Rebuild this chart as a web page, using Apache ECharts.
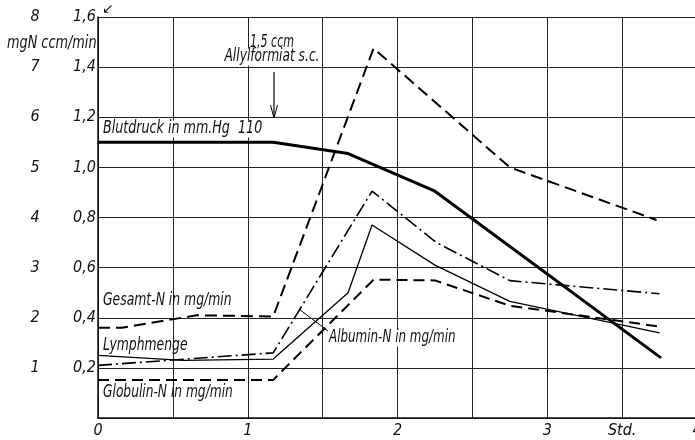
<!DOCTYPE html>
<html>
<head>
<meta charset="utf-8">
<script src="https://cdn.jsdelivr.net/npm/echarts@6/dist/echarts.min.js"></script>
<style>
html,body{margin:0;padding:0;background:#fff;}
#chart{width:695px;height:440px;}
</style>
</head>
<body>
<div id="chart"></div>
<script>
// ---- data (hours, value on the 0..1.6 scale) ----
const blutdruckX = [0, 1.17, 1.67, 2.25, 3.76];
const blutdruckY = [1.10, 1.10, 1.055, 0.905, 0.24];

const gesamtX = [0, 0.16, 0.66, 1.17, 1.84, 2.75, 3.73];
const gesamtY = [0.36, 0.36, 0.41, 0.405, 1.475, 1.0, 0.79];

const lymphX = [0, 0.57, 1.17, 1.67, 1.83, 2.25, 2.75, 3.75];
const lymphY = [0.25, 0.23, 0.235, 0.50, 0.77, 0.61, 0.465, 0.34];

const albuminX = [0, 1.17, 1.83, 2.26, 2.75, 3.75];
const albuminY = [0.21, 0.26, 0.905, 0.70, 0.548, 0.496];

const globulinX = [0, 1.17, 1.84, 2.25, 2.75, 3.75];
const globulinY = [0.152, 0.152, 0.552, 0.549, 0.448, 0.365];

const xTickLabels = {0: '0', 1: '1', 2: '2', 3: '3', 3.5: 'Std.', 4: '4'};
const leftTickLabels = {0.2: '1', 0.4: '2', 0.6: '3', 0.8: '4', 1.0: '5', 1.2: '6', 1.4: '7', 1.6: '8'};

function zip(xs, ys) { return xs.map((x, i) => [x, ys[i]]); }

const FONT = "'DejaVu Sans Condensed', 'Liberation Sans Narrow', 'Liberation Sans', sans-serif";
const chart = echarts.init(document.getElementById('chart'), null, {renderer: 'canvas'});

function label(text, x, y, opts) {
  const o = opts || {};
  return {
    type: 'text', x: x, y: y, scaleX: o.scaleX || 0.8, z: 100,
    style: {
      text: text, fontFamily: FONT, fontStyle: 'italic', fill: '#111',
      fontSize: o.fontSize || 17, align: o.align || 'left', verticalAlign: 'middle',
      backgroundColor: o.bg || null
    }
  };
}

chart.setOption({
  animation: false,
  backgroundColor: '#fff',
  grid: {left: 98, top: 17, right: -2, bottom: 22, containLabel: false, outerBoundsMode: 'none'},
  xAxis: {
    type: 'value', min: 0, max: 4, interval: 0.5,
    axisLine: {show: true, lineStyle: {color: '#111', width: 1.5}},
    axisTick: {show: false},
    splitLine: {show: true, lineStyle: {color: '#222', width: 1}},
    axisLabel: {
      fontFamily: FONT, fontStyle: 'italic', fontSize: 16, color: '#111', margin: 5,
      showMaxLabel: true, showMinLabel: true, hideOverlap: false,
      formatter: v => (xTickLabels[Math.round(v * 10) / 10] || '')
    }
  },
  yAxis: {
    type: 'value', min: 0, max: 1.6, interval: 0.2,
    axisLine: {show: true, lineStyle: {color: '#111', width: 1.5}},
    axisTick: {show: false},
    splitLine: {show: true, lineStyle: {color: '#222', width: 1}},
    axisLabel: {
      margin: 2,
      formatter: v => {
        const k = Math.round(v * 10) / 10;
        if (k === 0) return '';
        return '{a|' + leftTickLabels[k] + '}{b|' + k.toFixed(1).replace('.', ',') + '}';
      },
      rich: {
        a: {fontFamily: FONT, fontStyle: 'italic', fontSize: 16, color: '#111', width: 66, align: 'center'},
        b: {fontFamily: FONT, fontStyle: 'italic', fontSize: 16, color: '#111', width: 28, align: 'right'}
      }
    }
  },
  series: [
    {type: 'line', data: zip(blutdruckX, blutdruckY), symbol: 'none',
     lineStyle: {color: '#000', width: 3}},
    {type: 'line', data: zip(gesamtX, gesamtY), symbol: 'none',
     lineStyle: {color: '#000', width: 2, type: [12, 6]}},
    {type: 'line', data: zip(lymphX, lymphY), symbol: 'none',
     lineStyle: {color: '#000', width: 1.3}},
    {type: 'line', data: zip(albuminX, albuminY), symbol: 'none',
     lineStyle: {color: '#000', width: 1.6, type: [14, 4, 2, 4]}},
    {type: 'line', data: zip(globulinX, globulinY), symbol: 'none',
     lineStyle: {color: '#000', width: 2, type: [11, 6]}}
  ],
  graphic: [
    label('mgN ccm/min', 7, 44, {scaleX: 0.84}),
    {type: 'text', x: 102, y: 2, style: {text: '↙', fontSize: 14, fontFamily: 'DejaVu Sans', fill: '#111'}},
    label('1,5 ccm', 272, 43, {align: 'center', scaleX: 0.72}),
    label('Allylformiat s.c.', 272, 57, {align: 'center', scaleX: 0.8, bg: '#fff'}),
    {type: 'line', shape: {x1: 274, y1: 72, x2: 274, y2: 118}, style: {stroke: '#000', lineWidth: 1.2}},
    {type: 'polyline', shape: {points: [[270.5, 105], [274, 118], [277.5, 105]]}, style: {stroke: '#000', lineWidth: 1, fill: null}},
    label('Blutdruck in mm.Hg  110', 103, 129, {scaleX: 0.83, bg: '#fff'}),
    label('Gesamt-N in mg/min', 103, 301, {scaleX: 0.81}),
    label('Lymphmenge', 103, 346, {scaleX: 0.81}),
    label('Globulin-N in mg/min', 103, 393, {scaleX: 0.8}),
    {type: 'line', shape: {x1: 299, y1: 309, x2: 328, y2: 331}, style: {stroke: '#000', lineWidth: 1}},
    label('Albumin-N in mg/min', 329, 338, {scaleX: 0.78, bg: '#fff'})
  ]
});
</script>
</body>
</html>
